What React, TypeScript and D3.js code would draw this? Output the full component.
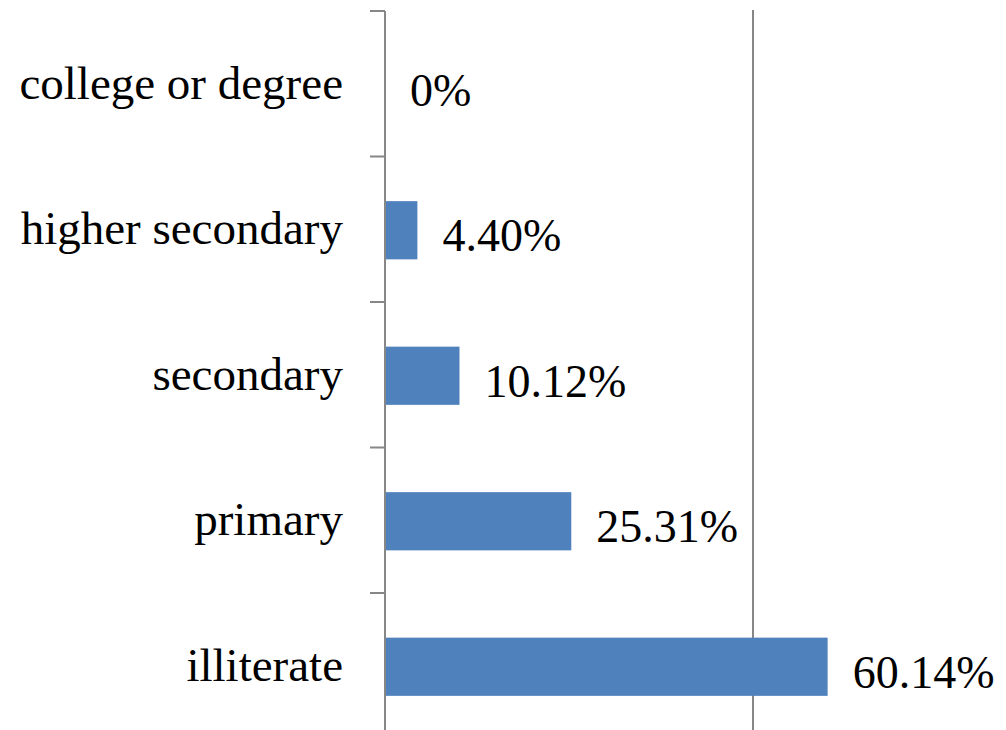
import React from "react";
import * as d3 from "d3";

// Education levels, listed top to bottom
const categories: string[] = [
  "college or degree",
  "higher secondary",
  "secondary",
  "primary",
  "illiterate",
];

// Share of respondents in each level (%)
const values: number[] = [0, 4.4, 10.12, 25.31, 60.14];

// Value labels as printed beside each bar
const valueLabels: string[] = ["0%", "4.40%", "10.12%", "25.31%", "60.14%"];

// Vertical gridlines (percent)
const gridValues: number[] = [50];

const WIDTH = 1006;
const HEIGHT = 730;
const BAR_COLOR = "#4f81bd";
const AXIS_COLOR = "#878787";
const FONT = "'Liberation Serif', 'Times New Roman', serif";

export default function App() {
  const x = d3.scaleLinear().domain([0, 100]).range([385, 1121]);
  const y = d3
    .scaleBand<string>()
    .domain(categories)
    .range([11, 11 + 145.5 * categories.length])
    .padding(0);

  const band = y.bandwidth();
  const barH = band * 0.4;
  const boundaries = d3.range(categories.length + 1).map((i) => 11 + band * i);

  return (
    <svg
      width={WIDTH}
      height={HEIGHT}
      style={{ position: "absolute", left: 0, top: 0, background: "#fff" }}
    >
      <rect x={0} y={0} width={WIDTH} height={HEIGHT} fill="#fff" />

      {/* gridlines */}
      {gridValues.map((g) => (
        <line
          key={g}
          x1={x(g)}
          x2={x(g)}
          y1={10}
          y2={HEIGHT}
          stroke={AXIS_COLOR}
          strokeWidth={2}
        />
      ))}

      {/* bars */}
      {categories.map((c, i) => {
        const cy = (y(c) as number) + band / 2 + 1;
        return (
          <rect
            key={c}
            x={x(0)}
            y={cy - barH / 2}
            width={x(values[i]) - x(0)}
            height={barH}
            fill={BAR_COLOR}
          />
        );
      })}

      {/* category axis */}
      <line
        x1={x(0)}
        x2={x(0)}
        y1={11}
        y2={HEIGHT}
        stroke={AXIS_COLOR}
        strokeWidth={2}
      />
      {boundaries.map((b, i) => (
        <line
          key={i}
          x1={370}
          x2={x(0)}
          y1={b}
          y2={b}
          stroke={AXIS_COLOR}
          strokeWidth={2}
        />
      ))}

      {/* category labels */}
      {categories.map((c) => {
        const cy = (y(c) as number) + band / 2;
        return (
          <text
            key={c}
            x={343}
            y={cy + 15}
            textAnchor="end"
            fontFamily={FONT}
            fontSize={47}
            fill="#000"
          >
            {c}
          </text>
        );
      })}

      {/* value labels */}
      {categories.map((c, i) => {
        const cy = (y(c) as number) + band / 2;
        return (
          <text
            key={c}
            x={x(values[i]) + 25}
            y={cy + 22}
            fontFamily={FONT}
            fontSize={46}
            fill="#000"
          >
            {valueLabels[i]}
          </text>
        );
      })}
    </svg>
  );
}
